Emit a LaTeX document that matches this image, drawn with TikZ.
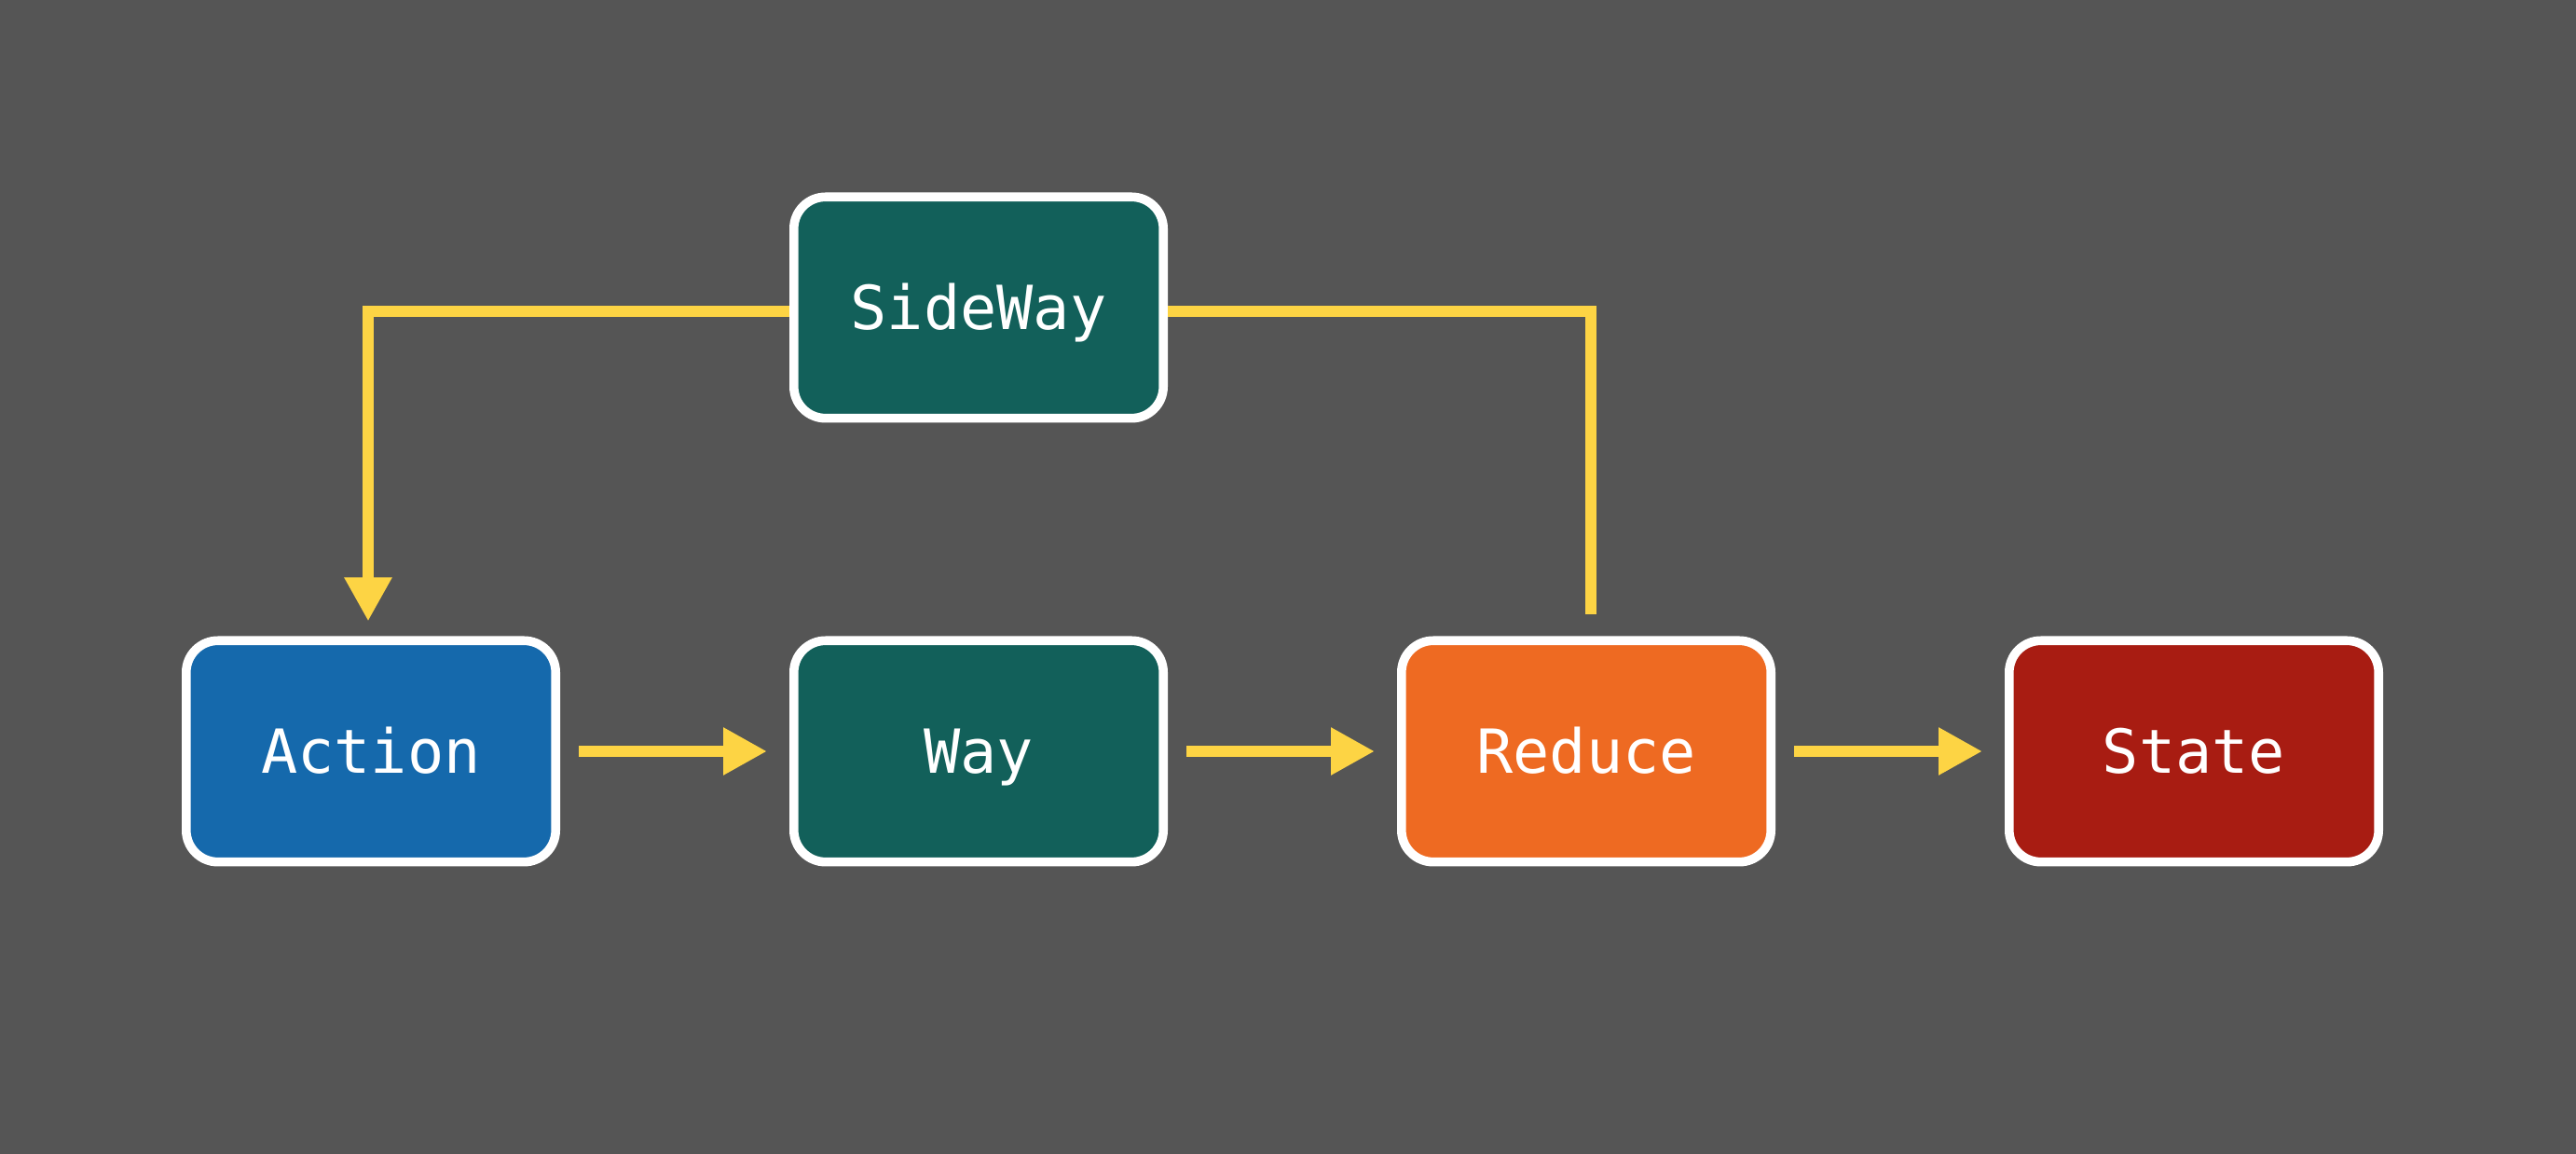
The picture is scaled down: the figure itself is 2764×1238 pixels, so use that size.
\documentclass[tikz,border=0pt]{standalone}
\usepackage{fontspec}
\newfontfamily\boxfont{DejaVu Sans Mono}
\usetikzlibrary{arrows.meta}
\definecolor{bg}{HTML}{555555}
\definecolor{actblue}{HTML}{1569AC}
\definecolor{wayteal}{HTML}{12605A}
\definecolor{redorange}{HTML}{EE6A22}
\definecolor{statered}{HTML}{A81C12}
\definecolor{connyellow}{HTML}{FDD444}
\tikzset{
  flowbox/.style={draw=white, line width=2.4pt, rounded corners=8.5pt,
    minimum width=99.1pt, minimum height=59.35pt, inner sep=0pt,
    text=white, font=\boxfont\fontsize{16.3}{20}\selectfont,
    text height=11.9pt, text depth=0pt},
  conn/.style={draw=connyellow, line width=3pt},
  connarrow/.style={conn, -{Triangle[length=11.75pt, width=12pt]}}
}
\begin{document}
\begin{tikzpicture}[x=0.25pt, y=-0.25pt]
\fill[bg] (0,0) rectangle (2764,1238);
\useasboundingbox (0,0) rectangle (2764,1238);
\node[flowbox, fill=wayteal] (sideway) at (1050,330) {SideWay};
\node[flowbox, fill=actblue] (action) at (398,806) {Action};
\node[flowbox, fill=wayteal] (way) at (1050,806) {Way};
\node[flowbox, fill=redorange] (reduce) at (1702,806) {Reduce};
\node[flowbox, fill=statered] (state) at (2354,806) {State};
\draw[connarrow, shorten >=4pt] ([yshift=-1pt]sideway.west) -| ([xshift=-0.75pt]action.north);
\draw[conn, shorten >=5.75pt] ([yshift=-1pt]sideway.east) -| ([xshift=1.25pt]reduce.north);
\draw[connarrow, shorten <=5pt, shorten >=6pt] (action.east) -- (way.west);
\draw[connarrow, shorten <=5pt, shorten >=6pt] (way.east) -- (reduce.west);
\draw[connarrow, shorten <=5pt, shorten >=6pt] (reduce.east) -- (state.west);
\end{tikzpicture}
\end{document}
